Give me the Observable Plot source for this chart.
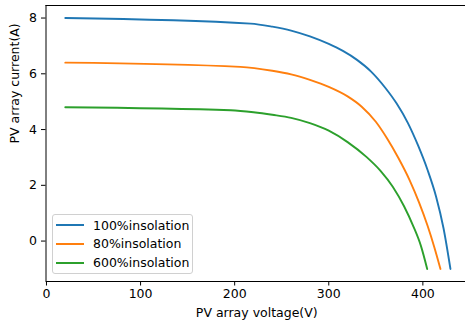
<!DOCTYPE html>
<html>
<head>
<meta charset="utf-8">
<script src="https://cdn.jsdelivr.net/npm/d3@7"></script>
<script src="https://cdn.jsdelivr.net/npm/@observablehq/plot@0.6"></script>
<style>
  html, body { margin: 0; padding: 0; background: white; }
  #wrap { position: relative; width: 465px; height: 320px; overflow: hidden; font-family: "DejaVu Sans", sans-serif; }
  #legend { position: absolute; left: 52px; top: 214px; width: 141px; height: 60px; box-sizing: border-box;
            border: 1px solid #d0d0d0; border-radius: 3px; background: rgba(255,255,255,0.8); }
  .row { position: absolute; left: 0; height: 18px; display: flex; align-items: center; font-size: 12.5px; color: #000; white-space: nowrap; }
  .sw { display: inline-block; width: 28px; height: 2px; margin-left: 3px; margin-right: 9px; }
</style>
</head>
<body>
<div id="wrap"></div>
<script>
// Series names and colours
const seriesNames = ["100%insolation", "80%insolation", "600%insolation"];
const seriesColors = ["#1f77b4", "#ff7f0e", "#2ca02c"];

// 100% insolation
const voltage100 = [20, 217, 240, 260, 280, 300, 315, 330, 345, 360, 372, 384, 395, 405, 414, 422, 429.3];
const current100 = [8.0, 7.80, 7.69, 7.55, 7.34, 7.07, 6.82, 6.50, 6.08, 5.50, 4.94, 4.24, 3.42, 2.55, 1.60, 0.45, -1.0];

// 80% insolation
const voltage80 = [20, 206, 240, 260, 280, 300, 320, 335, 350, 362, 374, 386, 396, 405, 412, 418.7];
const current80 = [6.4, 6.25, 6.11, 5.98, 5.78, 5.53, 5.19, 4.82, 4.28, 3.68, 2.98, 2.18, 1.38, 0.55, -0.2, -1.0];

// 60% insolation (labelled "600%insolation")
const voltage60 = [20, 196, 220, 240, 260, 280, 300, 320, 340, 355, 368, 380, 390, 398, 404.6];
const current60 = [4.8, 4.69, 4.62, 4.53, 4.42, 4.23, 3.96, 3.55, 3.02, 2.52, 1.95, 1.25, 0.52, -0.18, -1.0];

// Axis ticks and labels
const xTicks = [0, 100, 200, 300, 400];
const yTicks = [0, 2, 4, 6, 8];
const xLabel = "PV array voltage(V)";
const yLabel = "PV array current(A)";

const rows = [];
[[voltage100, current100], [voltage80, current80], [voltage60, current60]].forEach(([vs, cs], k) => {
  vs.forEach((v, j) => rows.push({series: seriesNames[k], v, i: cs[j]}));
});

const xMin = -0.5, xMax = 445.3, yMin = -1.45, yMax = 8.45;

const chart = Plot.plot({
  width: 465,
  height: 320,
  marginLeft: 45.5,
  marginRight: 0,
  marginTop: 5,
  marginBottom: 39,
  style: {fontFamily: "DejaVu Sans", fontSize: "12.5px", color: "#000", background: "white"},
  x: {domain: [xMin, xMax]},
  y: {domain: [yMin, yMax]},
  color: {domain: seriesNames, range: seriesColors},
  marks: [
    Plot.line(rows, {x: "v", y: "i", z: "series", stroke: "series", strokeWidth: 1.9, curve: "monotone-x"}),
    Plot.axisX({ticks: xTicks, tickSize: 4.5, tickPadding: 3, label: null, fontSize: 12.5}),
    Plot.axisY({ticks: yTicks, tickSize: 4.5, tickPadding: 4.5, label: null, fontSize: 12.5}),
    Plot.ruleX([xMin], {stroke: "#000", strokeWidth: 1}),
    Plot.ruleY([yMin], {stroke: "#000", strokeWidth: 1}),
    Plot.ruleY([yMax], {stroke: "#000", strokeWidth: 1}),
    Plot.text([xLabel], {text: d => d, frameAnchor: "bottom", dy: 31, dx: 1, lineAnchor: "middle", fontSize: 12.5}),
    Plot.text([yLabel], {text: d => d, frameAnchor: "left", dx: -31.5, rotate: -90, lineAnchor: "middle", fontSize: 12.5})
  ]
});

const wrap = document.getElementById("wrap");
wrap.appendChild(chart);

const legend = document.createElement("div");
legend.id = "legend";
seriesNames.forEach((name, k) => {
  const row = document.createElement("div");
  row.className = "row";
  row.style.top = (1 + k * 18.8) + "px";
  const sw = document.createElement("span");
  sw.className = "sw";
  sw.style.background = seriesColors[k];
  row.appendChild(sw);
  row.appendChild(document.createTextNode(name));
  legend.appendChild(row);
});
wrap.appendChild(legend);
</script>
</body>
</html>
